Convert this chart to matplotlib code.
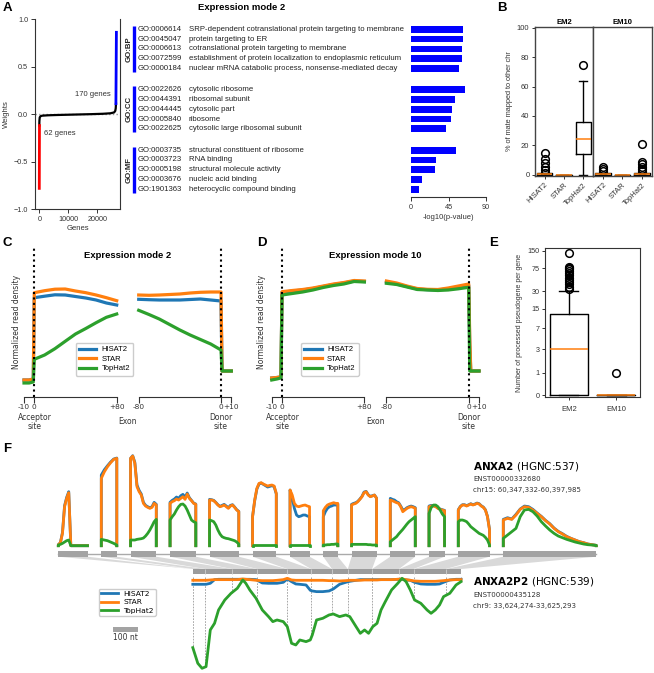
import matplotlib
matplotlib.use('Agg')
import matplotlib.pyplot as plt
import matplotlib.transforms as mtransforms
from matplotlib.patches import Rectangle, Polygon
from matplotlib.ticker import NullLocator
import numpy as np

plt.rcParams['font.family'] = ['Liberation Sans', 'DejaVu Sans']
plt.rcParams['axes.linewidth'] = 0.8
DJ = 'DejaVu Sans'

W, H = 654, 673
fig = plt.figure(figsize=(W / 100, H / 100), dpi=100)

tools = ['HISAT2', 'STAR', 'TopHat2']
tool_colors = ['#1f77b4', '#ff7f0e', '#2ca02c']

# ---- A: sorted gene weights, expression mode 2
rank_all = [0, 40, 150, 400, 1000, 3000, 6000, 10000, 14000, 18000, 22000, 24500, 25800, 26200, 26350, 26450]
weight_all = [-0.12, -0.07, -0.035, -0.022, -0.016, -0.012, -0.009, -0.006, -0.003, 0.0, 0.004, 0.009, 0.018, 0.035, 0.06, 0.11]
rank_neg = [0, 62]
weight_neg = [-0.78, -0.12]
rank_pos = [26420, 26590]
weight_pos = [0.11, 0.86]

bp_ids = ['GO:0006614', 'GO:0045047', 'GO:0006613', 'GO:0072599', 'GO:0000184']
bp_terms = ['SRP-dependent cotranslational protein targeting to membrane', 'protein targeting to ER',
            'cotranslational protein targeting to membrane',
            'establishment of protein localization to endoplasmic reticulum',
            'nuclear mRNA catabolic process, nonsense-mediated decay']
bp_logp = [62.6, 61.8, 61.5, 60.8, 57.9]
cc_ids = ['GO:0022626', 'GO:0044391', 'GO:0044445', 'GO:0005840', 'GO:0022625']
cc_terms = ['cytosolic ribosome', 'ribosomal subunit', 'cytosolic part', 'ribosome',
            'cytosolic large ribosomal subunit']
cc_logp = [65.0, 53.0, 49.0, 47.5, 42.0]
mf_ids = ['GO:0003735', 'GO:0003723', 'GO:0005198', 'GO:0003676', 'GO:1901363']
mf_terms = ['structural constituent of ribosome', 'RNA binding', 'structural molecule activity',
            'nucleic acid binding', 'heterocyclic compound binding']
mf_logp = [54.0, 30.5, 28.5, 13.0, 9.7]

# ---- B: % of mate mapped to other chr (box summaries)
em2_med = [0.3, 0.0, 24.5]
em2_q1 = [0.0, 0.0, 14.3]
em2_q3 = [1.0, 0.0, 35.6]
em2_lo = [0.0, 0.0, 0.0]
em2_hi = [1.2, 0.0, 63.5]
em2_fliers = [[1.4, 3.2, 5.4, 7.7, 10.7, 14.5], [], [74.4]]
em10_med = [0.3, 0.0, 0.3]
em10_q1 = [0.0, 0.0, 0.0]
em10_q3 = [1.0, 0.0, 1.0]
em10_lo = [0.0, 0.0, 0.0]
em10_hi = [1.2, 0.0, 1.3]
em10_fliers = [[2.7, 4.1, 5.4], [], [2.5, 3.9, 5.4, 7.3, 8.8, 20.9]]

# ---- C/D: read density around splice sites
acc_pos = [-10, -5, -1, 0, 10, 20, 30, 40, 50, 60, 70, 80]
don_pos = [-80, -70, -60, -50, -40, -30, -20, -10, 0, 1, 2, 5, 10]
em2_acc_hisat2 = [0.10, 0.10, 0.11, 0.923, 0.938, 0.952, 0.95, 0.935, 0.92, 0.90, 0.87, 0.85]
em2_acc_star = [0.10, 0.10, 0.11, 0.973, 0.993, 1.008, 1.01, 0.99, 0.973, 0.95, 0.923, 0.893]
em2_acc_tophat2 = [0.07, 0.07, 0.08, 0.307, 0.35, 0.413, 0.487, 0.56, 0.615, 0.673, 0.727, 0.76]
em2_don_hisat2 = [0.907, 0.903, 0.90, 0.90, 0.90, 0.905, 0.91, 0.90, 0.89, 0.19, 0.19, 0.19, 0.19]
em2_don_star = [0.95, 0.947, 0.95, 0.955, 0.96, 0.97, 0.977, 0.98, 0.98, 0.19, 0.19, 0.19, 0.19]
em2_don_tophat2 = [0.797, 0.755, 0.71, 0.655, 0.60, 0.55, 0.505, 0.46, 0.40, 0.19, 0.19, 0.19, 0.19]
em10_acc_hisat2 = [0.12, 0.125, 0.13, 0.975, 0.99, 1.0, 1.015, 1.035, 1.055, 1.07, 1.09, 1.085]
em10_acc_star = [0.12, 0.125, 0.133, 0.983, 0.995, 1.005, 1.02, 1.04, 1.06, 1.075, 1.095, 1.09]
em10_acc_tophat2 = [0.10, 0.11, 0.12, 0.95, 0.965, 0.98, 1.0, 1.025, 1.045, 1.06, 1.085, 1.08]
em10_don_hisat2 = [1.08, 1.06, 1.035, 1.01, 1.003, 1.0, 1.012, 1.03, 1.045, 0.45, 0.19, 0.19, 0.19]
em10_don_star = [1.09, 1.07, 1.04, 1.015, 1.007, 1.005, 1.02, 1.04, 1.06, 0.53, 0.19, 0.19, 0.19]
em10_don_tophat2 = [1.067, 1.055, 1.03, 1.005, 1.0, 0.995, 1.0, 1.012, 1.027, 0.19, 0.19, 0.19, 0.19]

# ---- E: processed pseudogenes per gene (box summaries)
e_groups = ['EM2', 'EM10']
e_med = [3, 0]
e_q1 = [0, 0]
e_q3 = [12.2, 0]
e_lo = [0, 0]
e_hi = [30, 0]
e_fliers = [[33, 36, 40, 44, 48, 52, 57, 62, 67, 72, 77, 80, 137], [1]]

# ---- F: ANXA2 coverage per exon, ANXA2P2 coverage
exon_nt = [117, 62, 103, 103, 117, 95, 78, 58, 100, 100, 62, 125, 372]
anxa2_hisat2 = [
    [3, 9, 40, 120, 145, 162, 0, 0, 0, 0, 0, 0, 0, 0, 0],
    [212, 228, 240, 251, 260, 263],
    [262, 270, 250, 182, 166, 155, 130, 121, 117, 114, 117, 130, 124],
    [130, 136, 140, 146, 142, 150, 154, 146, 158, 144, 136, 128, 125],
    [139, 138, 136, 130, 123, 118, 121, 124, 119, 114, 121, 123, 116, 108, 103],
    [87, 135, 170, 185, 188, 184, 180, 176, 178, 180, 177, 155],
    [167, 142, 112, 92, 87, 89, 92, 92, 89, 87],
    [87, 102, 112, 117, 119, 122, 122, 125],
    [124, 127, 129, 133, 140, 148, 161, 163, 153, 148, 150, 152, 143],
    [142, 139, 137, 132, 129, 119, 107, 109, 114, 117, 119, 117, 114],
    [119, 121, 120, 118, 113, 110, 108, 106],
    [108, 118, 123, 123, 120, 123, 126, 123, 125, 128, 126, 120, 116, 108, 88, 48],
    [79, 84, 80, 94, 110, 119, 117, 109, 98, 88, 76, 66, 53, 43, 36, 28, 22, 17, 12, 9, 5, 3, 1],
]
anxa2_star = [
    [3, 9, 37, 117, 142, 159, 0, 0, 0, 0, 0, 0, 0, 0, 0],
    [202, 222, 237, 249, 259, 262],
    [262, 269, 247, 177, 162, 152, 127, 119, 115, 112, 115, 127, 122],
    [127, 132, 135, 140, 137, 142, 147, 139, 155, 142, 135, 127, 124],
    [137, 137, 135, 129, 122, 117, 119, 122, 117, 112, 119, 122, 115, 107, 102],
    [87, 137, 172, 187, 189, 185, 182, 179, 181, 182, 179, 157],
    [167, 152, 127, 119, 117, 119, 121, 122, 119, 117],
    [105, 115, 122, 125, 127, 129, 127, 127],
    [122, 125, 127, 132, 139, 147, 159, 162, 152, 147, 149, 152, 142],
    [137, 135, 132, 129, 127, 117, 102, 107, 112, 115, 117, 115, 112],
    [117, 119, 119, 117, 112, 109, 107, 105],
    [107, 117, 122, 122, 119, 122, 125, 122, 124, 127, 125, 119, 115, 107, 87, 47],
    [77, 82, 79, 92, 109, 117, 115, 107, 97, 87, 75, 65, 52, 42, 35, 27, 22, 17, 12, 9, 5, 3, 1],
]
anxa2_tophat2 = [
    [2, 4, 7, 11, 15, 17, 0, 0, 0, 0, 0, 0, 0, 0, 0],
    [19, 17, 15, 11, 7, 2],
    [17, 17, 17, 19, 20, 21, 23, 29, 37, 47, 59, 72, 79],
    [77, 87, 95, 107, 117, 124, 125, 119, 107, 92, 77, 72, 69],
    [77, 75, 72, 62, 47, 35, 27, 24, 22, 21, 19, 17, 15, 11, 5],
    [2, 2, 2, 2, 2, 2, 2, 2, 2, 2, 2, 2],
    [2, 2, 2, 2, 2, 2, 2, 2, 2, 2],
    [2, 2, 3, 3, 4, 4, 5, 5],
    [4, 4, 4, 4, 4, 4, 4, 4, 3, 3, 2, 2, 2],
    [12, 17, 22, 27, 35, 42, 49, 57, 65, 72, 77, 82, 87],
    [97, 115, 122, 122, 117, 107, 95, 87],
    [72, 77, 77, 75, 72, 65, 57, 52, 47, 42, 37, 34, 31, 25, 17, 2],
    [22, 32, 42, 52, 87, 107, 109, 102, 89, 72, 59, 47, 37, 29, 24, 19, 15, 11, 8, 5, 3, 2, 1],
]
pg_bounds = [0, 0, 50, 157, 257, 378, 473, 557, 620, 717, 825, 883, 1012, 1073]
pg_pos = [0, 20, 37, 53, 70, 87, 103, 128, 153, 178, 200, 212, 228, 253, 278, 303, 320, 337, 362, 378,
          395, 412, 428, 453, 470, 478, 495, 520, 545, 562, 587, 612, 628, 653, 670, 687, 703, 720, 737, 753,
          770, 795, 820, 837, 853, 870, 887, 912, 937, 953, 970, 987, 1003, 1028, 1053, 1073]
pg_hisat2 = [18, 18, 18, 18, 15, 4, 3, 3, 3, 3, 3, 3, 3, 4, 14, 15, 15, 15, 12, 2,
             10, 17, 18, 20, 36, 38, 40, 40, 38, 32, 18, 12, 9, 6, 4, 4, 4, 4, 4, 4,
             4, 4, 3, 3, 5, 6, 12, 17, 18, 18, 18, 17, 12, 5, 3, 3]
pg_star = [6, 6, 6, 6, 5, 4, 4, 4, 4, 4, 2, 3, 4, 6, 7, 7, 7, 6, 4, 0,
           5, 6, 6, 6, 6, 6, 6, 6, 7, 7, 8, 7, 6, 6, 6, 5, 5, 5, 5, 4,
           4, 4, 3, 2, 4, 6, 8, 9, 9, 9, 9, 8, 7, 5, 4, 4]
pg_tophat2 = [208, 255, 270, 265, 155, 135, 95, 65, 45, 30, 5, 15, 35, 60, 95, 115, 130, 125, 130, 145,
              195, 200, 185, 190, 185, 170, 125, 120, 110, 107, 115, 110, 115, 145, 165, 155, 165, 145, 135, 95,
              70, 35, 15, 0, 10, 35, 65, 75, 95, 105, 95, 80, 55, 45, 20, 10]


def px_axes(x0, y0, x1, y1):
    return fig.add_axes([x0 / W, 1 - y1 / H, (x1 - x0) / W, (y1 - y0) / H])


def ftext(x, y, s, **kw):
    kw.setdefault('va', 'center')
    return fig.text(x / W, 1 - y / H, s, **kw)


# panel letters
for letter, lx, ly in [('A', 2.7, 8), ('B', 496.7, 8), ('C', 2.7, 243), ('D', 256.7, 243),
                       ('E', 489.3, 243), ('F', 2.7, 449)]:
    ftext(lx, ly, letter, fontsize=9.5, fontweight='bold')

# ================= A =================
axA = px_axes(35, 19, 120, 209.3)
axA.axhline(0, color='#999999', ls=':', lw=1, zorder=1)
axA.plot(rank_all, weight_all, color='black', lw=1.6, zorder=3)
axA.plot(rank_neg, weight_neg, color='red', lw=2, zorder=3)
axA.plot(rank_pos, weight_pos, color='blue', lw=2, zorder=3)
axA.set_xlim(-1480, 27830)
axA.set_ylim(-1, 1)
axA.set_xticks([0, 10000, 20000])
axA.set_yticks([-1, -0.5, 0, 0.5, 1])
axA.tick_params(labelsize=5.2, length=3, width=0.7, pad=2, colors='#333333', labelcolor='#333333')
axA.spines['top'].set_visible(False)
for s in ['left', 'right', 'bottom']:
    axA.spines[s].set_color('#333333')
axA.set_xlabel('Genes', fontsize=5.5, labelpad=1, color='#333333')
axA.set_ylabel('Weights', fontsize=5.5, labelpad=3, color='#333333')
axA.text(24700, 0.21, '170 genes', fontsize=5.5, ha='right', va='center', color='#333333')
axA.text(1700, -0.2, '62 genes', fontsize=5.5, ha='left', va='center', color='#333333')

ftext(241.5, 8, 'Expression mode 2', fontsize=6.8, fontweight='bold', ha='center')

# GO terms with bars
axG = px_axes(411, 23.5, 486, 197)
go_groups = [('GO:BP', bp_ids, bp_terms, bp_logp), ('GO:CC', cc_ids, cc_terms, cc_logp),
             ('GO:MF', mf_ids, mf_terms, mf_logp)]
blend = mtransforms.blended_transform_factory(fig.transFigure, axG.transData)
for g, (gname, ids, terms, vals) in enumerate(go_groups):
    rows = [g * 6.2 + i for i in range(len(ids))]
    axG.barh(rows, vals, height=0.68, color='blue')
    for r, gid, term in zip(rows, ids, terms):
        axG.text(137.3 / W, r, gid, transform=blend, fontsize=5.6, va='center', color='#222222')
        axG.text(188.7 / W, r, term, transform=blend, fontsize=5.6, va='center', color='#222222')
    axG.plot([134 / W, 134 / W], [rows[0] - 0.35, rows[-1] + 0.35], transform=blend, color='blue',
             lw=2.4, clip_on=False, solid_capstyle='butt')
    axG.text(129 / W, (rows[0] + rows[-1]) / 2, gname, transform=blend, rotation=90, fontsize=5.6,
             fontweight='bold', ha='center', va='center', color='#222222')
axG.set_xlim(0, 90)
axG.set_ylim(17.2, -0.6)
for s in ['left', 'top', 'right']:
    axG.spines[s].set_visible(False)
axG.spines['bottom'].set_bounds(0, 90)
axG.spines['bottom'].set_color('#333333')
axG.set_yticks([])
axG.set_xticks([0, 45, 90])
axG.tick_params(labelsize=5.2, length=3, width=0.7, pad=2, colors='#333333')
axG.set_xlabel('-log10(p-value)', fontsize=5.5, labelpad=2, color='#333333')

# ================= B =================
def box_stats(med, q1, q3, lo, hi, fl):
    return [dict(med=m, q1=a, q3=b, whislo=c, whishi=d, fliers=f)
            for m, a, b, c, d, f in zip(med, q1, q3, lo, hi, fl)]


box_kw = dict(widths=0.8, showfliers=True,
              flierprops=dict(marker='o', markerfacecolor='none', markeredgecolor='black', markersize=5.5,
                              markeredgewidth=1.1),
              medianprops=dict(color='#ff7f0e', lw=1.1),
              boxprops=dict(color='black', lw=1), whiskerprops=dict(color='black', lw=1),
              capprops=dict(color='black', lw=1))

axB1 = px_axes(535, 27, 593, 176)
axB2 = px_axes(593, 27, 651.7, 176)
for ax, stats, head in [(axB1, box_stats(em2_med, em2_q1, em2_q3, em2_lo, em2_hi, em2_fliers), 'EM2'),
                        (axB2, box_stats(em10_med, em10_q1, em10_q3, em10_lo, em10_hi, em10_fliers), 'EM10')]:
    ax.bxp(stats, positions=[1, 2, 3], **box_kw)
    ax.set_xlim(0.5, 3.5)
    ax.set_ylim(-0.9, 100.5)
    ax.set_xticks([1, 2, 3])
    ax.set_xticklabels(tools, rotation=45, ha='right', rotation_mode='anchor', fontsize=5.5, color='#333333')
    ax.tick_params(length=2.5, width=0.7, pad=1.5, colors='#333333')
    for s in ax.spines.values():
        s.set_color('#444444')
        s.set_linewidth(1)
    ax.set_title(head, fontsize=5.5, fontweight='bold', pad=2)
axB1.set_yticks([0, 20, 40, 60, 80, 100])
axB1.tick_params(axis='y', labelsize=5.5)
axB1.set_ylabel('% of mate mapped to other chr', fontsize=5.3, labelpad=3, color='#333333')
axB2.set_yticks([])

# ================= C / D =================
def profile(x0, acc_series, don_series, title, title_x, leg_x0, ylab_x):
    ax_a = px_axes(x0, 248, x0 + 92.7, 396.7)
    ax_d = px_axes(x0 + 114.7, 248, x0 + 207.3, 396.7)
    for ax, pos, series, lim, ticks, labels in [
            (ax_a, acc_pos, acc_series, (-10, 80), [-10, 0, 80], ['-10', '0', '+80']),
            (ax_d, don_pos, don_series, (-80, 10), [-80, 0, 10], ['-80', '0', '+10'])]:
        for vals, name, col in zip(series, tools, tool_colors):
            ax.plot(pos, vals, color=col, lw=2.3, label=name, clip_on=False)
        ax.axvline(0, color='black', ls=(0, (1, 1.6)), lw=1.5, zorder=5, clip_on=False)
        ax.set_xlim(*lim)
        ax.set_ylim(-0.067, 1.42)
        for s in ['left', 'top', 'right']:
            ax.spines[s].set_visible(False)
        ax.spines['bottom'].set_bounds(*lim)
        ax.spines['bottom'].set_color('#333333')
        ax.set_yticks([])
        ax.set_xticks(ticks, labels, fontsize=5.3, fontfamily=DJ, color='#333333')
        ax.tick_params(axis='x', length=4, width=0.8, pad=1.5, colors='#333333')
    ftext(x0 + 10.7, 422, 'Acceptor\nsite', fontsize=5.5, family=DJ, ha='center', linespacing=0.95,
          color='#333333')
    ftext(x0 + 103.5, 422, 'Exon', fontsize=5.5, family=DJ, ha='center', color='#333333')
    ftext(x0 + 196.7, 422, 'Donor\nsite', fontsize=5.5, family=DJ, ha='center', linespacing=0.95,
          color='#333333')
    ftext(ylab_x, 322, 'Normalized read density', fontsize=5.5, family=DJ, rotation=90, ha='center',
          color='#333333')
    ftext(title_x, 255, title, fontsize=6.8, fontweight='bold', ha='center')
    ax_a.legend(loc='upper left', bbox_to_anchor=(leg_x0 / W, 1 - 339 / H), bbox_transform=fig.transFigure,
                fontsize=5.5, handlelength=2.3, borderpad=0.4, labelspacing=0.3, handletextpad=0.7,
                framealpha=1, edgecolor='#cccccc')


profile(24, [em2_acc_hisat2, em2_acc_star, em2_acc_tophat2], [em2_don_hisat2, em2_don_star, em2_don_tophat2],
        'Expression mode 2', 127.7, 72, 17)
profile(271.7, [em10_acc_hisat2, em10_acc_star, em10_acc_tophat2],
        [em10_don_hisat2, em10_don_star, em10_don_tophat2], 'Expression mode 10', 375.3, 297.3, 261)

# ================= E =================
axE = px_axes(545, 248.3, 640, 397.3)
axE.set_yscale('asinh', linear_width=1)
axE.bxp(box_stats(e_med, e_q1, e_q3, e_lo, e_hi, e_fliers), positions=[1, 2], **box_kw)
axE.set_xlim(0.5, 2.5)
axE.set_ylim(-0.09, 165)
axE.set_yticks([0, 1, 3, 7, 15, 30, 75, 150], ['0', '1', '3', '7', '15', '30', '75', '150'])
axE.yaxis.set_minor_locator(NullLocator())
axE.set_xticks([1, 2], e_groups)
axE.tick_params(labelsize=5.2, length=2.5, width=0.7, pad=1.5, colors='#333333')
axE.tick_params(axis='x', labelsize=5.5, pad=4)
for s in axE.spines.values():
    s.set_color('#333333')
axE.set_ylabel('Number of processed pseudogene per gene', fontsize=5, labelpad=3, color='#333333')

# ================= F =================
INTRON_GAP = 55
PG_OFFSET = 538
exon_start = np.concatenate([[0], np.cumsum(np.array(exon_nt[:-1]) + INTRON_GAP)])
exon_end = exon_start + np.array(exon_nt)
nt_lim = (-58.3 * 4, (W - 58.3) * 4)

axFt = px_axes(0, 450, W, 550)
for hs, st, th, s, e in zip(anxa2_hisat2, anxa2_star, anxa2_tophat2, exon_start, exon_end):
    for vals, col in zip([hs, st, th], tool_colors):
        xs = np.linspace(s, e, len(vals))
        axFt.plot(np.r_[s, xs, e], np.r_[0, vals, 0], color=col, lw=2, solid_joinstyle='round')
axFt.set_xlim(nt_lim)
axFt.set_ylim(-12.9, 287.1)
axFt.axis('off')

axFs = px_axes(0, 546, W, 580)
axFs.set_xlim(nt_lim)
axFs.set_ylim(580, 546)
axFs.axis('off')
axFs.plot([exon_start[0], exon_end[-1]], [553.7, 553.7], color='#aaaaaa', lw=1, zorder=1)
for i, (s, e) in enumerate(zip(exon_start, exon_end)):
    axFs.add_patch(Rectangle((s, 550.7), e - s, 6, fc='#a3a3a3', ec='none', zorder=2))
    axFs.add_patch(Polygon([(s, 556.7), (e, 556.7), (PG_OFFSET + pg_bounds[i + 1], 569),
                            (PG_OFFSET + pg_bounds[i], 569)], closed=True, fc='#d9d9d9', ec='none', zorder=0))
axFs.add_patch(Rectangle((PG_OFFSET, 569), pg_bounds[-1], 5.3, fc='#9c9c9c', ec='none', zorder=2))
axFs.vlines([PG_OFFSET + b for b in pg_bounds[2:-1]], 569, 574.3, color='#c8c8c8', lw=0.7, zorder=3)

axFp = px_axes(0, 575, W, 673)
axFp.set_xlim(nt_lim)
axFp.set_ylim(284.1, -9.9)
axFp.axis('off')
pg_x = PG_OFFSET + np.array(pg_pos)
for b in sorted(set(pg_bounds)):
    yb = np.interp(b, pg_pos, pg_tophat2)
    axFp.plot([PG_OFFSET + b] * 2, [-5, yb], color='#999999', ls=(0, (2, 1.5)), lw=0.6, zorder=1)
for vals, name, col in zip([pg_hisat2, pg_star, pg_tophat2], tools, tool_colors):
    axFp.plot(pg_x, vals, color=col, lw=2, label=name, zorder=3)
axFp.legend(loc='upper left', bbox_to_anchor=(95 / W, 1 - 585 / H), bbox_transform=fig.transFigure,
            handlelength=2.3, borderpad=0.28, labelspacing=0.28, handletextpad=0.7,
            framealpha=1, edgecolor='#cccccc', prop={'family': DJ, 'size': 5.4})
axFp.add_patch(Rectangle((216.8, 145), 100, 15, fc='#a3a3a3', ec='none', clip_on=False))
axFp.text(266.8, 177, '100 nt', fontsize=5.5, family=DJ, ha='center', va='center', color='#333333')

ftext(473, 466.7, r'$\mathbf{ANXA2}$ (HGNC:537)', fontsize=7.5, family=DJ)
ftext(473, 479, 'ENST00000332680', fontsize=5, family=DJ, color='#333333')
ftext(473, 490, 'chr15: 60,347,332-60,397,985', fontsize=5, family=DJ, color='#333333')
ftext(473, 581.7, r'$\mathbf{ANXA2P2}$ (HGNC:539)', fontsize=7.5, family=DJ)
ftext(473, 595, 'ENST00000435128', fontsize=5, family=DJ, color='#333333')
ftext(473, 605.7, 'chr9: 33,624,274-33,625,293', fontsize=5, family=DJ, color='#333333')

fig.savefig('out.png', dpi=100)
